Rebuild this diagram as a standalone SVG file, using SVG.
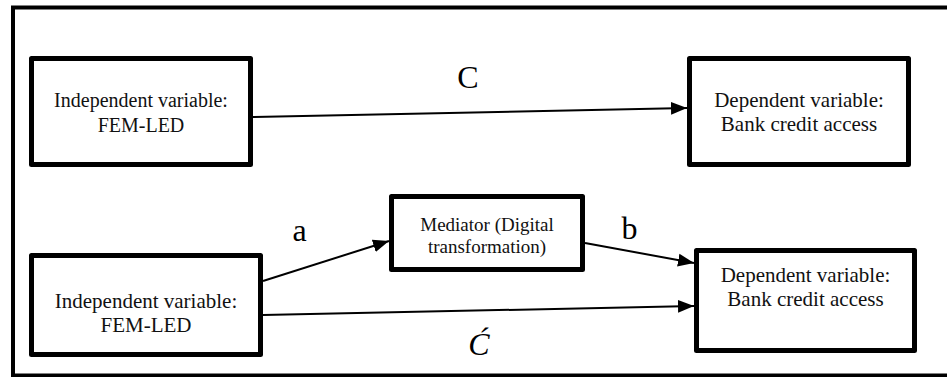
<svg xmlns="http://www.w3.org/2000/svg" width="947" height="377" viewBox="0 0 947 377">
<defs>
<style>
.box{fill:#fff;stroke:#000;stroke-width:5;stroke-linejoin:round}
.t{font-family:"Liberation Serif","Times New Roman",serif;fill:#111;text-anchor:middle}
.lbl{font-family:"Liberation Serif","Times New Roman",serif;fill:#000;text-anchor:middle;font-size:32px}
.conn{stroke:#000;stroke-width:2;fill:none}
</style>
<marker id="ah" markerUnits="userSpaceOnUse" markerWidth="17" markerHeight="14" refX="16" refY="7" orient="auto" viewBox="0 0 17 14">
<path d="M0,0.5 L16,7 L0,13.5 Z" fill="#000"/>
</marker>
</defs>
<rect width="947" height="377" fill="#fff"/>
<rect x="13" y="7.5" width="940" height="368" fill="none" stroke="#000" stroke-width="4"/>
<g id="connectors">
<line class="conn" x1="253" y1="117" x2="687" y2="108" marker-end="url(#ah)"/>
<line class="conn" x1="263" y1="281" x2="389" y2="241" marker-end="url(#ah)"/>
<line class="conn" x1="585" y1="243" x2="694" y2="263" marker-end="url(#ah)"/>
<line class="conn" x1="263" y1="315" x2="694" y2="306" marker-end="url(#ah)"/>
</g>
<g id="iv1">
<rect class="box" x="31.5" y="58.5" width="219" height="106"/>
<text class="t" font-size="20" x="141" y="107">Independent variable:</text>
<text class="t" font-size="20" x="141" y="132">FEM-LED</text>
</g>
<g id="dv1">
<rect class="box" x="689.5" y="58.5" width="219" height="106"/>
<text class="t" font-size="21" x="799" y="107">Dependent variable:</text>
<text class="t" font-size="21" x="799" y="131">Bank credit access</text>
</g>
<g id="iv2">
<rect class="box" x="31.5" y="255.5" width="229" height="99"/>
<text class="t" font-size="21" x="146" y="308">Independent variable:</text>
<text class="t" font-size="21" x="146" y="332">FEM-LED</text>
</g>
<g id="mediator">
<rect class="box" x="391.5" y="196.5" width="191" height="73"/>
<text class="t" font-size="19" x="487" y="231">Mediator (Digital</text>
<text class="t" font-size="19" x="487" y="253">transformation)</text>
</g>
<g id="dv2">
<rect class="box" x="696.5" y="250.5" width="218" height="100"/>
<text class="t" font-size="21" x="805.5" y="282">Dependent variable:</text>
<text class="t" font-size="21" x="805.5" y="306">Bank credit access</text>
</g>
<g id="labels">
<text class="lbl" x="468" y="88">C</text>
<text class="lbl" x="299.5" y="241">a</text>
<text class="lbl" x="629.5" y="239">b</text>
<text class="lbl" x="479" y="355" font-size="24" font-style="italic">Ć</text>
</g>
</svg>
